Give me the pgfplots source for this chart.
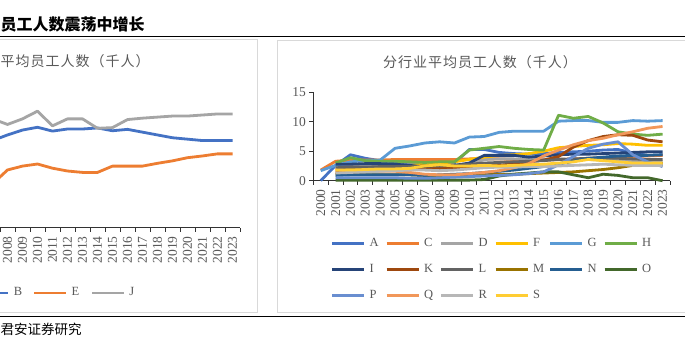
\documentclass[border=0pt]{standalone}
\usepackage{fontspec}
\setmainfont{Liberation Serif}
\newfontfamily\cjk{Noto Sans CJK SC}
\newfontfamily\cjkls[LetterSpace=7]{Noto Sans CJK SC}
\usepackage{pgfplots}
\usepackage{pgfplotstable}
\pgfplotsset{compat=1.18}

\definecolor{txtgray}{HTML}{595959}
\definecolor{cA}{HTML}{4472C4}
\definecolor{cC}{HTML}{ED7D31}
\definecolor{cD}{HTML}{A5A5A5}
\definecolor{cF}{HTML}{FFC000}
\definecolor{cG}{HTML}{5B9BD5}
\definecolor{cH}{HTML}{70AD47}
\definecolor{cI}{HTML}{264478}
\definecolor{cK}{HTML}{9E480E}
\definecolor{cL}{HTML}{636363}
\definecolor{cM}{HTML}{997300}
\definecolor{cN}{HTML}{255E91}
\definecolor{cO}{HTML}{43682B}
\definecolor{cP}{HTML}{698ED0}
\definecolor{cQ}{HTML}{F1975A}
\definecolor{cR}{HTML}{B7B7B7}
\definecolor{cS}{HTML}{FFCD33}

\pgfplotstableread{
year B E J
2007 24.9 12.5 31.1
2008 26.5 16.5 29.5
2009 27.9 17.6 31.1
2010 28.7 18.2 33.3
2011 27.6 17.0 29.1
2012 28.2 16.2 31.1
2013 28.2 15.8 31.1
2014 28.5 15.8 28.4
2015 27.7 17.6 28.6
2016 28.1 17.6 30.9
2017 27.3 17.6 31.3
2018 26.5 18.4 31.6
2019 25.7 19.1 31.9
2020 25.3 20.0 31.9
2021 24.9 20.5 32.2
2022 24.9 21.1 32.5
2023 24.9 21.1 32.5
}\lefttable

\pgfplotstableread{
year A C D F G H I K L M N O P Q R S
2000 0 1.8 nan nan 1.7 nan nan nan nan nan nan nan nan nan nan nan
2001 2.6 3.3 2.4 1.9 2.6 3.0 2.8 1.4 2.2 1.1 0.9 0.1 0.5 1.8 1.3 1.8
2002 4.4 3.5 2.5 2.0 3.2 3.9 2.8 1.4 2.3 1.0 1.0 0.1 0.5 1.7 1.4 1.8
2003 3.8 3.5 2.6 2.1 3.4 3.4 2.9 1.6 2.3 1.0 1.0 0.1 0.5 1.6 1.5 1.9
2004 3.4 3.5 2.6 2.2 3.5 3.3 2.9 1.7 2.4 1.0 1.0 0.1 0.5 1.6 1.6 2.0
2005 3.2 3.6 2.6 2.4 5.5 3.3 2.8 1.8 2.4 1.0 1.0 0.1 0.5 1.6 1.7 2.0
2006 3.0 3.6 2.7 2.6 5.9 3.2 2.6 1.9 2.4 1.0 1.0 0.1 0.4 1.4 1.8 2.1
2007 2.9 3.6 2.6 2.8 6.4 3.1 2.3 2.0 2.5 0.9 0.9 0.1 0.4 1.1 1.8 2.5
2008 2.9 3.6 2.5 3.0 6.6 3.2 2.4 2.1 2.5 0.9 1.0 0.1 0.5 1.0 1.7 2.7
2009 3.0 3.6 2.5 3.2 6.4 3.2 2.6 2.2 2.6 0.9 1.1 0.1 0.6 1.0 1.8 2.5
2010 5.3 3.7 2.7 3.6 7.4 5.2 3.0 2.3 2.8 1.0 1.2 0.1 0.7 1.2 2.0 2.5
2011 5.3 3.7 3.6 4.0 7.5 5.5 4.3 2.5 3.0 1.0 1.4 0.2 0.8 1.4 2.2 2.6
2012 4.8 3.7 3.7 4.3 8.2 5.8 4.3 2.6 3.1 1.1 1.6 0.8 0.9 1.7 2.3 2.5
2013 4.6 3.6 3.7 4.4 8.4 5.5 4.3 2.9 3.2 1.1 1.8 1.1 1.0 2.2 2.3 2.6
2014 4.5 3.5 3.6 4.6 8.4 5.3 4.0 3.2 3.3 1.2 2.1 1.3 1.2 2.9 2.4 2.7
2015 4.6 3.5 3.6 5.0 8.4 5.2 4.2 3.5 3.4 1.3 2.4 1.5 1.5 4.2 2.4 2.8
2016 4.8 3.6 3.7 5.6 10.1 11.1 4.4 4.1 3.6 1.4 2.8 1.5 2.7 5.2 2.5 3.0
2017 4.9 3.7 3.6 5.8 10.2 10.6 4.5 5.7 3.7 1.5 3.3 1.0 4.1 6.1 2.6 3.2
2018 5.0 3.8 3.6 6.0 10.2 10.9 4.5 6.8 3.8 1.7 3.8 0.5 5.5 6.8 2.7 3.6
2019 5.2 3.9 3.5 6.1 9.9 9.8 4.6 7.5 3.8 1.9 4.0 1.1 6.2 7.2 2.8 3.4
2020 5.3 4.0 3.4 6.3 9.9 8.3 4.7 7.8 3.8 2.2 4.2 0.9 6.6 7.8 2.7 3.2
2021 4.7 4.1 3.3 6.2 10.2 7.9 4.8 7.7 3.7 2.6 4.3 0.5 4.4 8.3 2.6 3.0
2022 4.3 4.2 3.3 6.0 10.1 7.7 4.9 6.9 3.6 2.8 4.3 0.5 3.2 8.9 2.6 3.0
2023 4.4 4.3 3.2 6.0 10.2 7.9 4.9 6.6 3.6 2.9 4.4 0.0 2.4 9.2 2.6 3.0
}\righttable

\pgfplotsset{mystyle/.style={
  scale only axis,
  xmin=1999.5, xmax=2023.5,
  axis x line=bottom, axis y line=left,
  axis line style={-, line width=0.9pt, color=black!80},
  minor xtick={1999.5,2000.5,...,2023.5},
  tick align=outside,
  major tick length=4pt, minor tick length=4pt,
  major x tick style={draw=none},
  minor x tick style={draw=black!80, line width=0.9pt},
  ytick style={draw=black!80, line width=0.9pt},
  /pgf/number format/1000 sep={},
  /pgf/number format/assume math mode=true,
  tick label style={font=\fontsize{13.5}{14}\selectfont, text=txtgray},
  xticklabel style={rotate=90, anchor=east, inner sep=0pt},
  xticklabel shift=4.5pt,
  clip=false,
  legend image code/.code={\draw[##1, line width=2.8pt] (0pt,0pt) -- (32pt,0pt);},
  legend style={draw=none, fill=none, inner sep=0pt, outer sep=0pt,
    font=\fontsize{12.5}{13}\selectfont, text=txtgray, row sep=14pt,
    /tikz/every odd column/.style={column sep=3pt},
    nodes={text width=9pt, align=left, inner sep=1pt, text height=8pt, text depth=2pt}},
  every axis plot/.append style={line width=2.8pt, line join=round, no markers},
}}

\begin{document}
\begin{tikzpicture}
\useasboundingbox (0,0) rectangle (685pt,-340pt);
\fill[white] (0,0) rectangle (685pt,-340pt);
\clip (0,0) rectangle (685pt,-340pt);

% header and rules
\node[anchor=west, inner sep=0pt, font=\cjk\bfseries\fontsize{16}{17}\selectfont] at (0.5pt,-24.5pt) {员工人数震荡中增长};
\draw[line width=1.5pt] (0pt,-36.7pt) -- (685pt,-36.7pt);
\draw[line width=1.5pt] (0pt,-316.7pt) -- (685pt,-316.7pt);
\node[anchor=west, inner sep=0pt, font=\cjk\fontsize{13.5}{14}\selectfont] at (0.5pt,-329pt) {君安证券研究};

% panels
\draw[black!15, line width=0.8pt] (-10pt,-39.5pt) rectangle (257pt,-312.3pt);
\draw[black!15, line width=0.8pt] (277pt,-40pt) rectangle (700pt,-312.3pt);

% titles
\node[anchor=west, inner sep=0pt, text=txtgray, font=\cjkls\fontsize{14}{15}\selectfont] at (0.5pt,-61.5pt) {平均员工人数（千人）};
\node[anchor=center, inner sep=0pt, text=txtgray, font=\cjkls\fontsize{14}{15}\selectfont] at (480pt,-62.5pt) {分行业平均员工人数（千人）};

% left chart
\begin{axis}[mystyle,
  at={(-120pt,-227.7pt)}, anchor=south west,
  width=360pt, height=140pt,
  xtick={2008,...,2023},
  ymin=0, ymax=40, ytick=\empty, axis y line=none,
  legend columns=3,
  legend style={at={(0.2639,-0.423)}, anchor=north west,
    /tikz/every even column/.style={column sep=9pt}},
]
\addplot[color=cA] table[x=year, y=B] {\lefttable};
\addlegendentry{B}
\addplot[color=cC] table[x=year, y=E] {\lefttable};
\addlegendentry{E}
\addplot[color=cD] table[x=year, y=J] {\lefttable};
\addlegendentry{J}
\end{axis}

% right chart
\begin{axis}[mystyle,
  at={(313.3pt,-180.7pt)}, anchor=south west,
  width=356.7pt, height=88.4pt,
  xtick={2000,...,2023},
  ymin=0, ymax=15, ytick={0,5,10,15},
  legend columns=6,
  legend style={at={(0.0488,-0.645)}, anchor=north west,
    /tikz/every even column/.style={column sep=5.7pt}},
]
\addplot[color=cA] table[x=year, y=A] {\righttable}; \addlegendentry{A}
\addplot[color=cC] table[x=year, y=C] {\righttable}; \addlegendentry{C}
\addplot[color=cD] table[x=year, y=D] {\righttable}; \addlegendentry{D}
\addplot[color=cF] table[x=year, y=F] {\righttable}; \addlegendentry{F}
\addplot[color=cG] table[x=year, y=G] {\righttable}; \addlegendentry{G}
\addplot[color=cH] table[x=year, y=H] {\righttable}; \addlegendentry{H}
\addplot[color=cI] table[x=year, y=I] {\righttable}; \addlegendentry{I}
\addplot[color=cK] table[x=year, y=K] {\righttable}; \addlegendentry{K}
\addplot[color=cL] table[x=year, y=L] {\righttable}; \addlegendentry{L}
\addplot[color=cM] table[x=year, y=M] {\righttable}; \addlegendentry{M}
\addplot[color=cN] table[x=year, y=N] {\righttable}; \addlegendentry{N}
\addplot[color=cO] table[x=year, y=O] {\righttable}; \addlegendentry{O}
\addplot[color=cP] table[x=year, y=P] {\righttable}; \addlegendentry{P}
\addplot[color=cQ] table[x=year, y=Q] {\righttable}; \addlegendentry{Q}
\addplot[color=cR] table[x=year, y=R] {\righttable}; \addlegendentry{R}
\addplot[color=cS] table[x=year, y=S] {\righttable}; \addlegendentry{S}
\end{axis}
\end{tikzpicture}
\end{document}
